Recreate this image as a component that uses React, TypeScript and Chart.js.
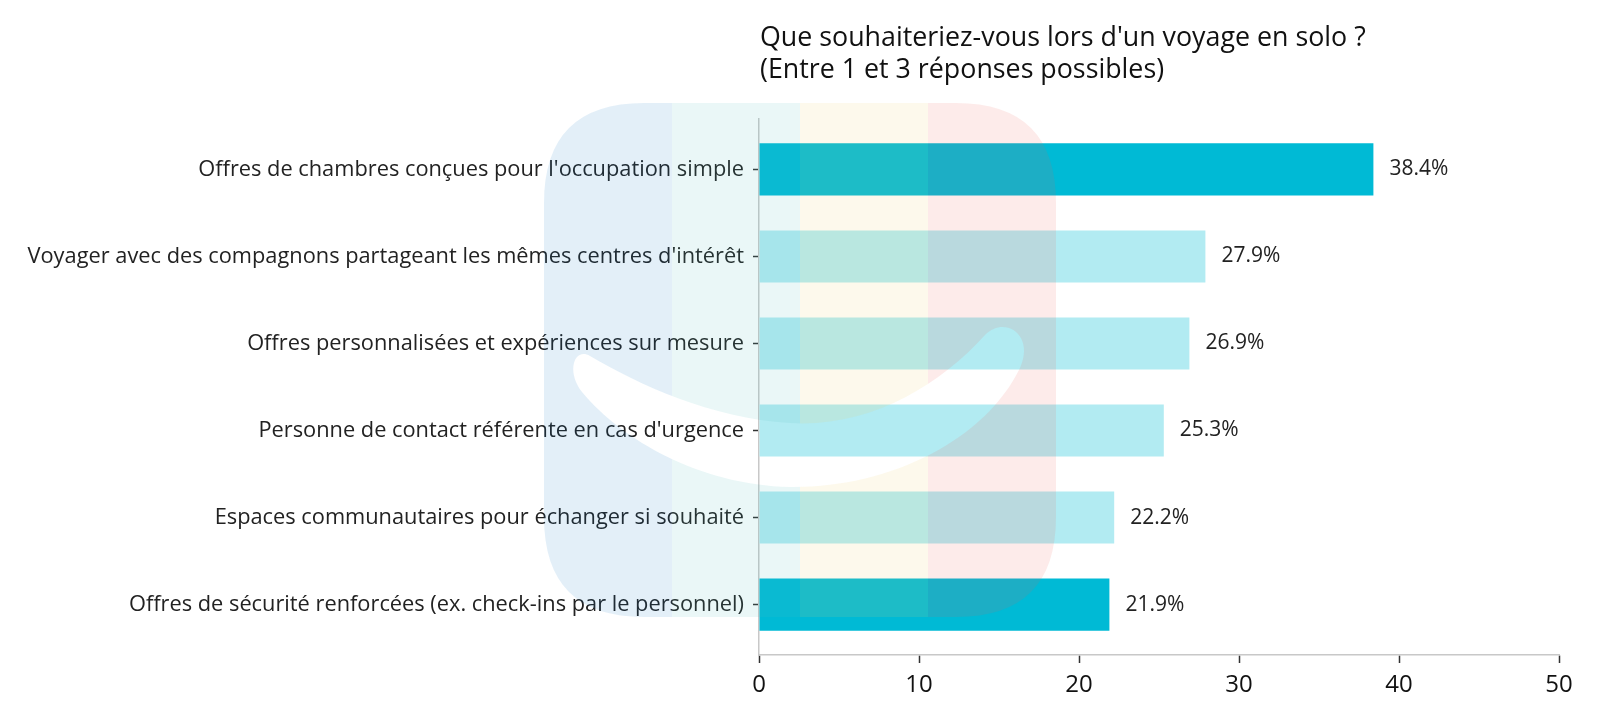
import { useEffect, useRef } from "react";
import { Chart, registerables } from "chart.js";

Chart.register(...registerables);

const categories = [
  "Offres de chambres conçues pour l'occupation simple",
  "Voyager avec des compagnons partageant les mêmes centres d'intérêt",
  "Offres personnalisées et expériences sur mesure",
  "Personne de contact référente en cas d'urgence",
  "Espaces communautaires pour échanger si souhaité",
  "Offres de sécurité renforcées (ex. check-ins par le personnel)",
];
const values = [38.4, 27.9, 26.9, 25.3, 22.2, 21.9];
const highlighted = [true, false, false, false, false, true];
const xTicks = [0, 10, 20, 30, 40, 50];
const titleLines = [
  "Que souhaiteriez-vous lors d'un voyage en solo ?",
  "(Entre 1 et 3 réponses possibles)",
];

const FONT = "'Open Sans', sans-serif";
const DARK = "#00BAD5";
const LIGHT = "#B2EBF2";

const titlePlugin = {
  id: "customTitle",
  afterDraw(chart: any) {
    const { ctx, chartArea } = chart;
    ctx.save();
    ctx.fillStyle = "#111";
    ctx.font = `26.8px ${FONT}`;
    ctx.textAlign = "left";
    ctx.textBaseline = "alphabetic";
    ctx.fillText(titleLines[0], chartArea.left + 1, 46);
    ctx.fillText(titleLines[1], chartArea.left + 1, 78);
    ctx.restore();
  },
};

const labelPlugin = {
  id: "valueLabels",
  afterDatasetsDraw(chart: any) {
    const { ctx } = chart;
    const meta = chart.getDatasetMeta(0);
    ctx.save();
    ctx.fillStyle = "#222";
    ctx.font = `21px ${FONT}`;
    ctx.textAlign = "left";
    ctx.textBaseline = "middle";
    meta.data.forEach((bar: any, i: number) => {
      ctx.fillText(`${values[i].toFixed(1)}%`, bar.x + 16, bar.y);
    });
    ctx.restore();
  },
};

const watermarkPlugin = {
  id: "watermark",
  afterDraw(chart: any) {
    const { ctx } = chart;
    const x0 = 544, y0 = 103, w = 512, h = 514, r = 100;
    ctx.save();
    const p = new Path2D();
    p.moveTo(x0 + r, y0);
    p.lineTo(x0 + w - r, y0);
    p.quadraticCurveTo(x0 + w, y0, x0 + w, y0 + r);
    p.lineTo(x0 + w, y0 + h - r);
    p.quadraticCurveTo(x0 + w, y0 + h, x0 + w - r, y0 + h);
    p.lineTo(x0 + r, y0 + h);
    p.quadraticCurveTo(x0, y0 + h, x0, y0 + h - r);
    p.lineTo(x0, y0 + r);
    p.quadraticCurveTo(x0, y0, x0 + r, y0);
    p.closePath();
    // swoosh (cut out of the watermark)
    p.moveTo(590, 356);
    p.bezierCurveTo(640, 385, 710, 418, 790, 423);
    p.bezierCurveTo(870, 428, 940, 385, 985, 335);
    p.bezierCurveTo(1005, 315, 1035, 335, 1020, 368);
    p.bezierCurveTo(985, 440, 890, 488, 790, 487);
    p.bezierCurveTo(700, 485, 622, 440, 582, 392);
    p.bezierCurveTo(566, 372, 574, 347, 590, 356);
    p.closePath();
    ctx.clip(p, "evenodd");
    const cols = [
      "rgba(22,122,197,0.12)",
      "rgba(80,188,188,0.12)",
      "rgba(238,205,97,0.12)",
      "rgba(238,88,80,0.12)",
    ];
    cols.forEach((c, i) => {
      ctx.fillStyle = c;
      ctx.fillRect(x0 + (i * w) / 4, y0, w / 4, h);
    });
    ctx.restore();
  },
};

export default function App() {
  const ref = useRef<HTMLCanvasElement | null>(null);
  useEffect(() => {
    document.body.style.margin = "0";
    if (!ref.current) return;
    const chart = new Chart(ref.current, {
      type: "bar",
      data: {
        datasets: [
          {
            data: values.map((v, i) => ({ x: v, y: i })) as any,
            backgroundColor: highlighted.map((h) => (h ? DARK : LIGHT)),
            borderWidth: 0,
            barPercentage: 0.6,
            categoryPercentage: 1,
          },
        ],
      },
      options: {
        indexAxis: "y",
        animation: false,
        responsive: false,
        devicePixelRatio: 1,
        layout: { padding: { top: 119, right: 41, left: 0, bottom: 0 } },
        plugins: {
          legend: { display: false },
          tooltip: { enabled: false },
          title: { display: false },
        },
        scales: {
          x: {
            type: "linear",
            min: 0,
            max: 50,
            offset: false,
            afterBuildTicks: (s: any) => {
              s.ticks = xTicks.map((v) => ({ value: v }));
            },
            ticks: {
              font: { family: FONT, size: 24 },
              color: "#111",
              padding: 8,
            },
            grid: {
              offset: false,
              drawOnChartArea: false,
              drawTicks: true,
              tickLength: 8,
              tickColor: "#333",
              tickWidth: 1.5,
            },
            border: { color: "#c8c8c8", width: 1.5 },
            afterFit: (s: any) => {
              s.height = 65;
            },
          },
          y: {
            type: "linear",
            reverse: true,
            offset: false,
            min: -0.58,
            max: 5.58,
            afterBuildTicks: (s: any) => {
              s.ticks = categories.map((_, i) => ({ value: i }));
            },
            ticks: {
              autoSkip: false,
              callback: (v: any) => categories[v] ?? "",
              font: { family: FONT, size: 21.8 },
              color: "#222",
              padding: 9,
            },
            grid: {
              offset: false,
              drawOnChartArea: false,
              drawTicks: true,
              tickLength: 6,
              tickColor: "#333",
              tickWidth: 1.5,
            },
            border: { color: "#c8c8c8", width: 1.5 },
            afterFit: (s: any) => {
              s.width = 759;
            },
          },
        },
      },
      plugins: [labelPlugin, titlePlugin, watermarkPlugin],
    });
    return () => chart.destroy();
  }, []);
  return (
    <div style={{ width: 1600, height: 720 }}>
      <canvas ref={ref} width={1600} height={720} />
    </div>
  );
}
